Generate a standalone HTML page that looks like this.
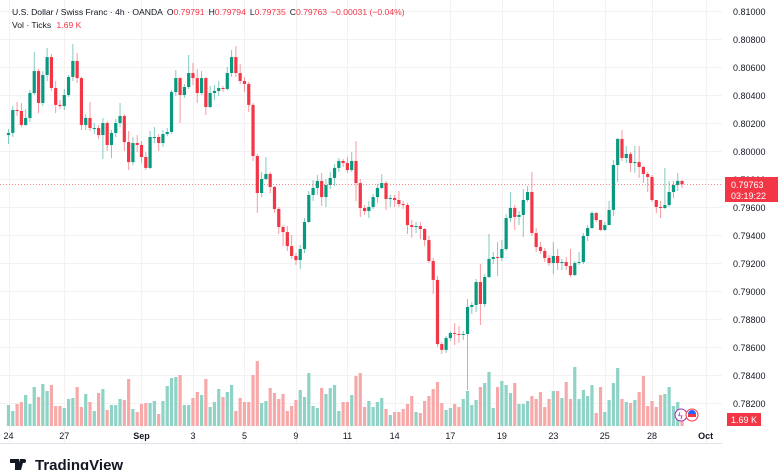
<!DOCTYPE html>
<html><head><meta charset="utf-8"><style>
html,body{margin:0;padding:0;background:#fff;}
body{width:780px;height:470px;overflow:hidden;font-family:"Liberation Sans",sans-serif;}
svg text{font-family:"Liberation Sans",sans-serif;}
</style></head><body>
<svg id="chart" width="780" height="470" viewBox="0 0 780 470" xmlns="http://www.w3.org/2000/svg">
<g id="grid"></g>
<g id="vol"></g>
<g id="candles"></g>
<g id="axis"></g>
<g id="taxis"></g>
<line x1="0" y1="443.5" x2="722" y2="443.5" stroke="#e0e3eb" stroke-width="1"/>
<text x="12" y="15" font-size="8.6" fill="#131722">U.S. Dollar / Swiss Franc · 4h · OANDA <tspan dx="2">O</tspan><tspan fill="#F23645">0.79791</tspan><tspan dx="4">H</tspan><tspan fill="#F23645">0.79794</tspan><tspan dx="4">L</tspan><tspan fill="#F23645">0.79735</tspan><tspan dx="4">C</tspan><tspan fill="#F23645">0.79763</tspan><tspan dx="4" fill="#F23645">−0.00031 (−0.04%)</tspan></text>
<text x="12" y="28" font-size="8.6" fill="#131722">Vol · Ticks <tspan dx="3" fill="#F23645">1.69 K</tspan></text>
<line x1="0" y1="184.5" x2="722" y2="184.5" stroke="#F23645" stroke-width="1" stroke-dasharray="1,2" opacity="0.6"/>
<rect x="725" y="177" width="53" height="25" fill="#F23645"/>
<text x="731" y="188" font-size="9" fill="#fff">0.79763</text>
<text x="731" y="199" font-size="9" fill="#fff">03:19:22</text>
<rect x="727" y="413" width="34" height="13" fill="#F23645"/>
<text x="731" y="423" font-size="9" fill="#fff">1.69 K</text>
<g>
<circle cx="681" cy="415" r="6" fill="#fff" stroke="#9c27b0" stroke-width="1"/>
<text x="678" y="419" font-size="9" fill="#9c27b0">ϟ</text>
<circle cx="692" cy="415" r="6" fill="#fff" stroke="#F23645" stroke-width="1"/>
<rect x="688" y="414" width="8" height="3" fill="#F23645"/><path d="M688 414 a4 4 0 0 1 8 0z" fill="#2962ff"/>
</g>
<g>
<path d="M10 459h9v11h-4v-7h-5z M20 459h4l-3 11h-4z" fill="#131722"/>
<circle cx="24" cy="461" r="2" fill="#131722"/>
<text x="35" y="470" font-size="15" font-weight="bold" fill="#131722">TradingView</text>
</g>
</svg>
<script>
const opens=[0.80114,0.80129,0.80293,0.80286,0.80186,0.80236,0.80414,0.80571,0.80343,0.80543,0.80671,0.80450,0.80329,0.80321,0.80400,0.80529,0.80643,0.80521,0.80186,0.80236,0.80164,0.80164,0.80114,0.80200,0.80043,0.80129,0.80200,0.80250,0.80064,0.79921,0.80057,0.80043,0.79957,0.79879,0.80100,0.80100,0.80057,0.80121,0.80136,0.80421,0.80521,0.80400,0.80457,0.80557,0.80521,0.80414,0.80521,0.80314,0.80414,0.80429,0.80450,0.80443,0.80557,0.80671,0.80557,0.80500,0.80479,0.80329,0.79964,0.79700,0.79800,0.79836,0.79743,0.79586,0.79457,0.79421,0.79321,0.79250,0.79221,0.79300,0.79493,0.79686,0.79736,0.79786,0.79671,0.79757,0.79807,0.79879,0.79929,0.79914,0.79864,0.79929,0.79771,0.79593,0.79571,0.79600,0.79671,0.79736,0.79771,0.79657,0.79664,0.79650,0.79621,0.79614,0.79471,0.79457,0.79464,0.79443,0.79364,0.79214,0.79079,0.78621,0.78579,0.78664,0.78700,0.78693,0.78686,0.78693,0.78886,0.78900,0.79064,0.78907,0.79100,0.79229,0.79243,0.79236,0.79300,0.79521,0.79593,0.79529,0.79543,0.79650,0.79707,0.79414,0.79314,0.79286,0.79236,0.79200,0.79250,0.79200,0.79207,0.79179,0.79114,0.79200,0.79207,0.79393,0.79450,0.79557,0.79507,0.79436,0.79471,0.79579,0.79900,0.80086,0.79950,0.79979,0.79914,0.79921,0.79886,0.79836,0.79814,0.79650,0.79600,0.79593,0.79614,0.79707,0.79757,0.79786];
const closes=[0.80129,0.80293,0.80286,0.80186,0.80236,0.80414,0.80571,0.80343,0.80543,0.80671,0.80450,0.80329,0.80321,0.80400,0.80529,0.80643,0.80521,0.80186,0.80236,0.80164,0.80164,0.80114,0.80200,0.80043,0.80129,0.80200,0.80250,0.80064,0.79921,0.80057,0.80043,0.79957,0.79879,0.80100,0.80100,0.80057,0.80121,0.80136,0.80421,0.80521,0.80400,0.80457,0.80557,0.80521,0.80414,0.80521,0.80314,0.80414,0.80429,0.80450,0.80443,0.80557,0.80671,0.80557,0.80500,0.80479,0.80329,0.79964,0.79700,0.79800,0.79836,0.79743,0.79586,0.79457,0.79421,0.79321,0.79250,0.79221,0.79300,0.79493,0.79686,0.79736,0.79786,0.79671,0.79757,0.79807,0.79879,0.79929,0.79914,0.79864,0.79929,0.79771,0.79593,0.79571,0.79600,0.79671,0.79736,0.79771,0.79657,0.79664,0.79650,0.79621,0.79614,0.79471,0.79457,0.79464,0.79443,0.79364,0.79214,0.79079,0.78621,0.78579,0.78664,0.78700,0.78693,0.78686,0.78693,0.78886,0.78900,0.79064,0.78907,0.79100,0.79229,0.79243,0.79236,0.79300,0.79521,0.79593,0.79529,0.79543,0.79650,0.79707,0.79414,0.79314,0.79286,0.79236,0.79200,0.79250,0.79200,0.79207,0.79179,0.79114,0.79200,0.79207,0.79393,0.79450,0.79557,0.79507,0.79436,0.79471,0.79579,0.79900,0.80086,0.79950,0.79979,0.79914,0.79921,0.79886,0.79836,0.79814,0.79650,0.79600,0.79593,0.79614,0.79707,0.79757,0.79786,0.79763];
const highs=[0.80157,0.80321,0.80350,0.80343,0.80300,0.80436,0.80707,0.80586,0.80571,0.80736,0.80693,0.80500,0.80364,0.80443,0.80543,0.80764,0.80700,0.80529,0.80264,0.80350,0.80200,0.80186,0.80236,0.80214,0.80150,0.80229,0.80343,0.80264,0.80143,0.80100,0.80114,0.80071,0.79993,0.80143,0.80171,0.80121,0.80150,0.80164,0.80436,0.80579,0.80529,0.80479,0.80686,0.80629,0.80586,0.80571,0.80529,0.80464,0.80471,0.80500,0.80464,0.80600,0.80721,0.80750,0.80621,0.80529,0.80493,0.80343,0.79979,0.79850,0.79957,0.79850,0.79750,0.79600,0.79471,0.79464,0.79400,0.79271,0.79329,0.79521,0.79714,0.79793,0.79829,0.79843,0.79800,0.79850,0.79907,0.79950,0.79943,0.79957,0.79993,0.80071,0.79800,0.79614,0.79643,0.79693,0.79764,0.79836,0.79786,0.79686,0.79686,0.79714,0.79643,0.79629,0.79507,0.79493,0.79493,0.79450,0.79393,0.79236,0.79107,0.78636,0.78679,0.78714,0.78771,0.78750,0.78714,0.78943,0.78921,0.79086,0.79193,0.79121,0.79407,0.79279,0.79350,0.79364,0.79550,0.79707,0.79614,0.79571,0.79729,0.79750,0.79850,0.79450,0.79350,0.79307,0.79257,0.79350,0.79300,0.79229,0.79243,0.79300,0.79214,0.79279,0.79414,0.79471,0.79571,0.79564,0.79507,0.79493,0.79643,0.79936,0.80093,0.80150,0.80036,0.79993,0.80036,0.80036,0.79893,0.79850,0.79829,0.79650,0.79643,0.79879,0.79786,0.79786,0.79843,0.79794];
const lows=[0.80050,0.80100,0.80250,0.80171,0.80179,0.80207,0.80400,0.80271,0.80321,0.80500,0.80429,0.80271,0.80300,0.80293,0.80386,0.80500,0.80486,0.80150,0.80150,0.80143,0.80121,0.80086,0.79943,0.80000,0.79950,0.80100,0.80171,0.80000,0.79864,0.79900,0.79993,0.79914,0.79864,0.79871,0.80057,0.80000,0.80029,0.80107,0.80121,0.80393,0.80200,0.80379,0.80443,0.80471,0.80343,0.80400,0.80257,0.80307,0.80364,0.80393,0.80421,0.80436,0.80529,0.80529,0.80479,0.80421,0.80279,0.79929,0.79557,0.79671,0.79793,0.79700,0.79557,0.79407,0.79321,0.79286,0.79229,0.79186,0.79157,0.79271,0.79486,0.79643,0.79686,0.79607,0.79600,0.79729,0.79750,0.79850,0.79886,0.79843,0.79850,0.79643,0.79529,0.79543,0.79521,0.79586,0.79629,0.79729,0.79579,0.79600,0.79600,0.79600,0.79586,0.79407,0.79379,0.79414,0.79371,0.79321,0.79200,0.78979,0.78600,0.78550,0.78557,0.78643,0.78614,0.78629,0.78650,0.78293,0.78836,0.78850,0.78757,0.78886,0.79093,0.79193,0.79107,0.79214,0.79286,0.79493,0.79436,0.79471,0.79386,0.79636,0.79393,0.79279,0.79264,0.79207,0.79179,0.79121,0.79150,0.79150,0.79150,0.79100,0.79107,0.79186,0.79193,0.79357,0.79443,0.79493,0.79429,0.79429,0.79471,0.79536,0.79779,0.79929,0.79914,0.79850,0.79843,0.79807,0.79771,0.79707,0.79636,0.79557,0.79521,0.79586,0.79600,0.79664,0.79714,0.79735];
const volumes=[21,15,22,24,31,22,39,29,42,35,41,20,20,18,27,28,39,19,32,24,15,33,37,16,21,21,27,26,47,17,14,22,23,23,25,12,25,40,48,49,51,21,21,28,34,31,47,19,24,37,29,34,41,15,28,24,24,51,65,23,25,38,33,27,32,15,20,26,36,29,53,20,18,38,32,38,41,15,24,24,31,50,53,19,25,19,24,28,17,11,14,14,17,22,30,14,13,25,30,37,44,23,16,18,22,19,27,35,21,26,39,43,54,18,39,45,41,33,43,22,22,25,30,27,34,19,27,35,35,28,44,27,59,27,36,30,41,13,39,14,26,43,58,27,24,23,26,34,50,20,25,19,31,32,39,20,24,10];
const priceTicks=["0.81000","0.80800","0.80600","0.80400","0.80200","0.80000","0.79800","0.79600","0.79400","0.79200","0.79000","0.78800","0.78600","0.78400","0.78200"];
const dateLabels=["24","27","Sep","3","5","9","11","14","17","19","23","25","28","Oct"];
const dateIndex=[0,13,31,43,55,67,79,90,103,115,127,139,150,162.5];
const boldDates=["Sep","Oct"];

const NS="http://www.w3.org/2000/svg";
function yP(p){return 151+(0.8-p)*14000;}
function xI(i){return 8.5+i*4.29;}
function yV(v){return 426-v;}
function mk(tag,attrs,parent){const e=document.createElementNS(NS,tag);for(const k in attrs)e.setAttribute(k,attrs[k]);parent.appendChild(e);return e;}
const G=document.getElementById('grid'),V=document.getElementById('vol'),C=document.getElementById('candles'),A=document.getElementById('axis'),T=document.getElementById('taxis');
const GREEN="#089981",RED="#F23645",VG="#8fd3c7",VR="#f7a9a9";
priceTicks.forEach(t=>{const y=Math.round(yP(parseFloat(t)))+0.5;
 const l=mk('line',{x1:0,x2:722,y1:y,y2:y,stroke:'#f2f2f4','stroke-width':1},G);
 
 
 const tx=mk('text',{x:733,y:y+3.5,'font-size':9,fill:'#131722'},A);tx.textContent=t;
 
 
});
dateLabels.forEach((d,k)=>{const x=xI(dateIndex[k]);
 const l=mk('line',{x1:Math.round(x)+0.5,x2:Math.round(x)+0.5,y1:0,y2:443,stroke:'#f7f0f1','stroke-width':1},G);
 
 
 const tx=mk('text',{x:x,y:439,'font-size':9,fill:'#131722','text-anchor':'middle','font-weight':boldDates.includes(d)?'bold':'normal'},T);tx.textContent=d;
 
 
});
volumes.forEach((v,i)=>{const up=closes[i]>=opens[i];const y=yV(v);
 const r=mk('rect',{x:xI(i)-1.6,y:y,width:3.2,height:426-y,fill:up?VG:VR},V);
 
 
});
closes.forEach((c,i)=>{const o=opens[i],up=c>=o,col=up?GREEN:RED,x=xI(i);
 const w=mk('line',{x1:x,x2:x,y1:yP(highs[i]),y2:yP(lows[i]),stroke:col,'stroke-width':1,opacity:0.5},C);
 
 
 const t=Math.min(yP(o),yP(c)),h=Math.max(1,Math.abs(yP(o)-yP(c)));
 const b=mk('rect',{x:x-1.6,y:t,width:3.2,height:h,fill:col},C);
 
 
});
</script>
</body></html>
